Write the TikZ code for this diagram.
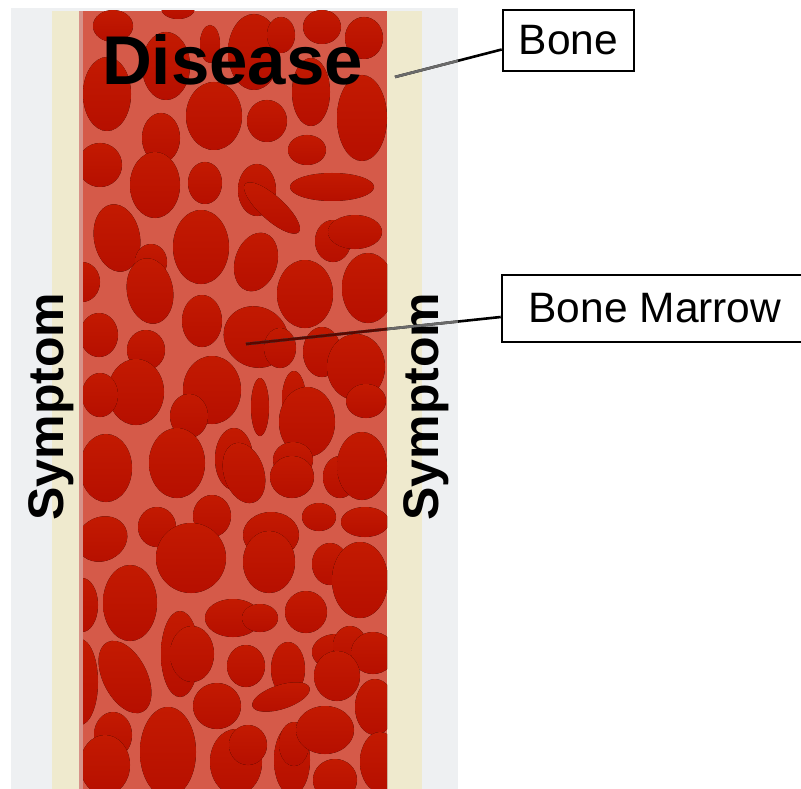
\documentclass[tikz,border=0pt]{standalone}
\usepackage{fontspec}
\setmainfont{Liberation Sans}
\usetikzlibrary{calc}

\definecolor{boneGray}{HTML}{EEF0F2}
\definecolor{boneCream}{HTML}{EFEACE}
\definecolor{marrowBg}{HTML}{D55A49}
\definecolor{marrowEdge}{HTML}{D7938A}
\definecolor{cellTop}{HTML}{C31A01}
\definecolor{cellBot}{HTML}{B60F00}
\definecolor{leadGray}{HTML}{6A6A6A}
\definecolor{leadRed}{HTML}{5A0800}

\begin{document}
\begin{tikzpicture}[x=1pt,y=-1pt,
  cell/.style={top color=cellTop,bottom color=cellBot,draw=none},
  labelbox/.style={draw=black,line width=2.6pt,fill=white,inner sep=0pt,
    font=\fontsize{42.5}{49}\selectfont},
  leader/.style={line width=2.6pt,draw=black},
  symptom/.style={font=\bfseries\fontsize{50}{58}\selectfont,anchor=base,rotate=90},
  ]
\useasboundingbox (0,0) rectangle (801,789);

% bone layers
\fill[boneGray] (11,8) rectangle (458,789);
\fill[boneCream] (52,11) rectangle (422,789);
\fill[marrowEdge] (79,11) rectangle (83,789);
\fill[marrowBg] (83,11) rectangle (387,789);

% marrow cells
\begin{scope}
\clip (83,11) rectangle (387,789);
\foreach \cx/\cy/\rx/\ry/\rt in {
  113/26/20/16/0, 178/8/17/11/0, 210/44/10/19/0, 254/52/26/38/0,
  281/35/14/18/0, 322/27/19/17/0, 364/38/19/21/0, 166/66/24/34/0,
  107/94/24/37/0, 214/116/28/34/0, 267/121/20/21/0, 311/92/19/34/0,
  362/118/25/43/0, 161/138/19/25/0, 100/165/22/22/0, 155/185/25/33/0,
  205/183/17/21/0, 307/150/19/15/0, 257/190/19/26/0, 272/208/36/12/-42,
  332/187/42/14/0, 117/238/23/34/10, 151/262/16/18/0, 150/291/23/33/10,
  82/282/18/20/0, 201/247/28/37/0, 256/262/21/30/-18, 333/241/18/21/0,
  355/232/27/17/0, 305/294/28/34/0, 368/288/26/35/0, 202/321/20/26/0,
  99/335/19/22/0, 146/350/19/20/0, 256/337/33/30/-30, 280/348/16/20/0,
  322/352/19/25/0, 356/367/29/33/0, 136/392/28/33/0, 100/395/18/22/0,
  212/390/29/34/0, 260/407/9/29/0, 294/400/12/29/0, 307/422/28/35/0,
  366/401/20/17/0, 189/416/19/22/0, 106/468/26/34/0, 177/463/28/35/0,
  234/459/19/31/0, 244/473/20/31/18, 293/460/20/18/0, 292/477/22/21/0,
  340/477/17/21/0, 362/466/25/34/0, 102/539/26/22/25, 157/527/19/20/0,
  212/516/19/21/0, 191/558/35/35/0, 271/535/28/23/0, 269/562/26/31/0,
  319/517/17/14/0, 365/522/24/15/0, 330/564/18/21/0, 360/580/28/38/0,
  130/603/27/38/0, 82/605/16/27/0, 233/618/28/19/0, 260/618/18/14/0,
  306/612/21/21/0, 125/677/22/39/27, 80/682/18/43/0, 180/654/19/43/0,
  192/654/22/28/0, 246/666/19/21/0, 288/669/17/27/0, 281/697/30/12/18,
  336/652/24/18/0, 350/646/17/20/0, 373/653/22/21/0, 337/676/23/25/0,
  375/707/20/28/0, 217/706/24/23/0, 113/735/19/23/0, 105/765/25/30/0,
  168/752/28/45/0, 236/762/26/33/0, 248/745/19/20/0, 292/760/18/35/0,
  294/744/15/22/0, 325/730/29/24/0, 335/780/22/21/0, 380/762/20/30/0}
  \fill[cell,rotate around={\rt:(\cx,\cy)}] (\cx,\cy) ellipse ({\rx} and {\ry});
\end{scope}

% titles
\node[font=\bfseries\fontsize{69}{80}\selectfont,anchor=base] (disease) at (232.5,85) {Disease};
\node[symptom] (symL) at (63,406.5) {Symptom};
\node[symptom] (symR) at (438,406.5) {Symptom};

% callouts
\node[labelbox,minimum width=131pt,minimum height=61pt] (bone) at (568.5,40.5) {Bone};
\node[labelbox,minimum width=306pt,minimum height=67pt] (marrow) at (655,308.5) {Bone Marrow};

\coordinate (boneTip) at (395,77);
\coordinate (marrowTip) at (246,344);

\draw[leader] (boneTip) -- ($(bone.west)+(0,9)$);
\draw[leader] (marrowTip) -- ($(marrow.west)+(0,8.5)$);
\begin{scope}
\clip (11,8) rectangle (458,789);
\draw[leader,draw=leadGray] (boneTip) -- ($(bone.west)+(0,9)$);
\draw[leader,draw=leadGray] (marrowTip) -- ($(marrow.west)+(0,8.5)$);
\end{scope}
\begin{scope}
\clip (83,11) rectangle (387,789);
\draw[leader,draw=leadRed] (marrowTip) -- ($(marrow.west)+(0,8.5)$);
\end{scope}
\end{tikzpicture}
\end{document}
